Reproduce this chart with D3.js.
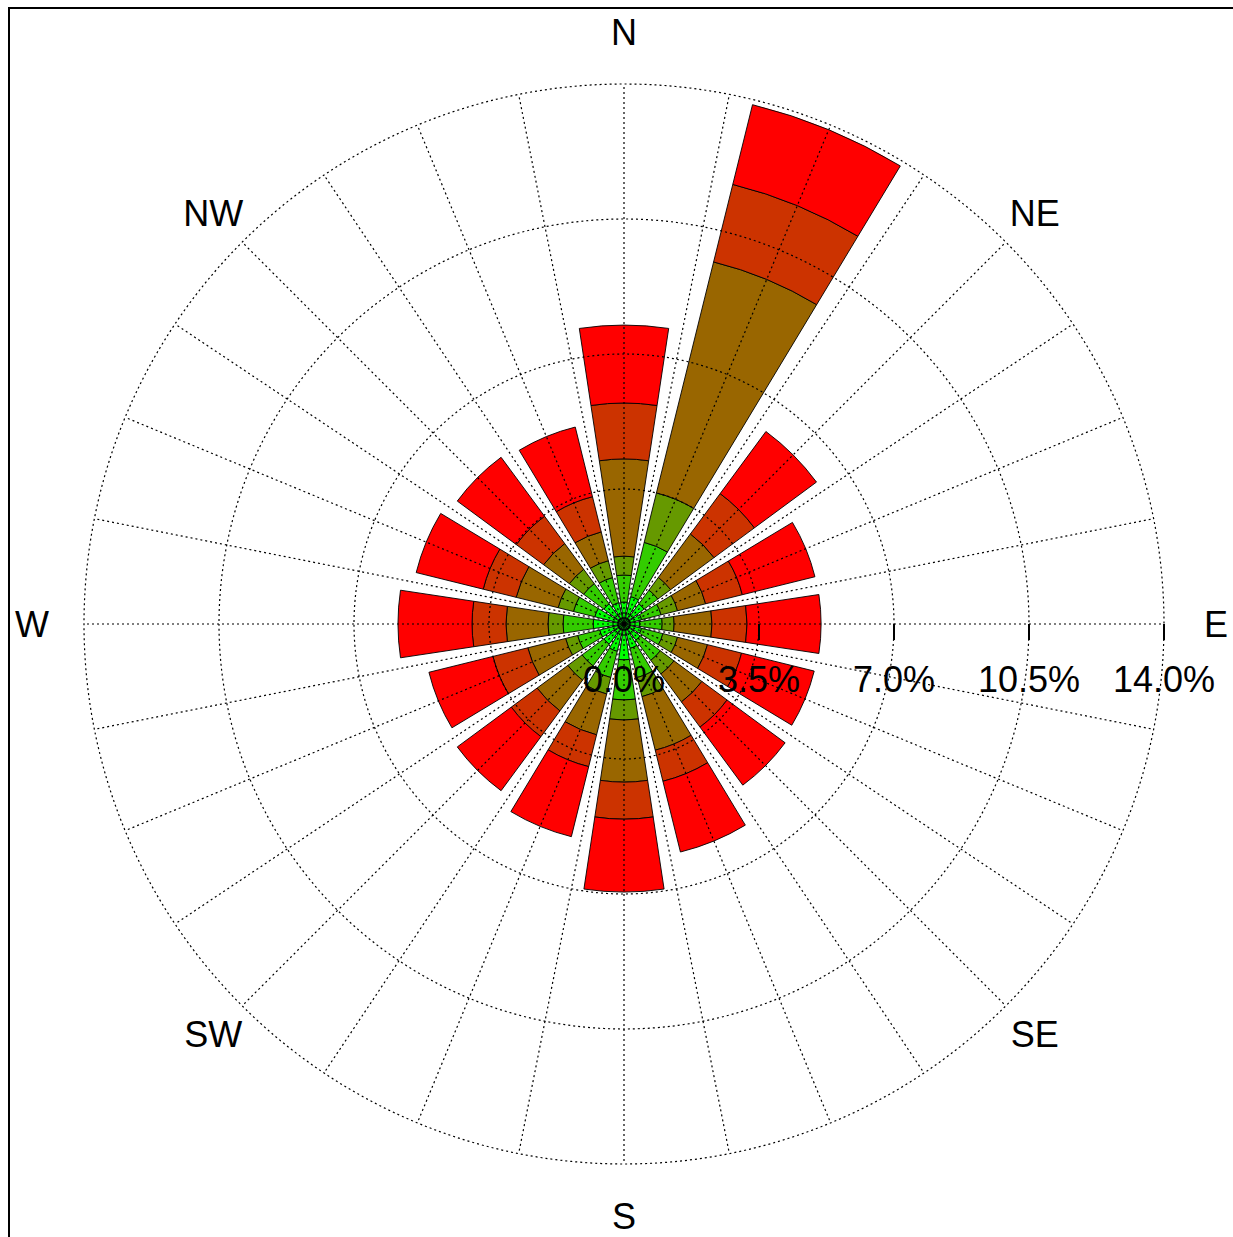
<!DOCTYPE html>
<html>
<head>
<meta charset="utf-8">
<script src="https://cdn.jsdelivr.net/npm/d3@7"></script>
<style>
  html, body { margin: 0; padding: 0; background: #fff; }
  svg { display: block; }
  text { font-family: "Liberation Sans", Arial, Helvetica, sans-serif; }
</style>
</head>
<body>
<svg id="chart" width="1233" height="1237"></svg>
<script>
// ---- data ----
const directions = ["N","NNE","NE","ENE","E","ESE","SE","SSE","S","SSW","SW","WSW","W","WNW","NW","NNW"];
const speedBins = ["s1","s2","s3","s4","s5","s6"];
const binColors = ["#00ff00","#33cc00","#669900","#996600","#cc3300","#ff0000"];
// frequency (%) of each speed bin for each direction
const s1 = [0.57,0.73,0.65,0.47,0.41,0.47,0.52,0.65,0.93,0.73,0.65,0.65,0.80,0.78,0.65,0.57];
const s2 = [0.70,1.45,0.44,0.52,0.58,0.57,0.65,0.78,1.04,0.70,0.70,0.59,0.78,0.57,0.65,0.67];
const s3 = [0.49,1.32,0.41,0.44,0.31,0.39,0.44,0.51,0.52,0.44,0.46,0.32,0.39,0.41,0.46,0.45];
const s4 = [2.52,6.17,1.40,0.75,0.98,0.80,0.90,1.43,1.61,1.09,0.99,1.01,1.09,1.12,0.83,0.77];
const s5 = [1.45,2.07,1.30,0.98,0.91,0.91,0.81,0.83,0.96,0.85,0.83,0.93,0.88,0.88,0.88,0.94];
const s6 = [2.02,2.13,2.00,1.94,1.92,1.94,1.87,1.89,1.89,1.87,1.74,1.71,1.92,1.79,1.90,1.86];
const ringTicks = [3.5, 7.0, 10.5, 14.0];
const tickLabels = ["0.0%","3.5%","7.0%","10.5%","14.0%"];
const compassLabels = ["N","NE","E","SE","S","SW","W","NW"];

// ---- layout ----
const W = 1233, H = 1237;
const cx = 624, cy = 624;
const R = 540;
const svg = d3.select("#chart");

// frame (axes box edges)
svg.append("path")
  .attr("d", `M9,${H} L9,8 L${W},8`)
  .attr("fill", "none").attr("stroke", "#000").attr("stroke-width", 2);

const g = svg.append("g").attr("transform", `translate(${cx},${cy})`);

const r = d3.scaleLinear().domain([0, 14]).range([0, R]);
const angle = d3.scaleLinear().domain([0, directions.length]).range([0, 2 * Math.PI]);
const halfWidth = 8.6 * Math.PI / 180;

const rows = directions.map((d, i) => {
  const o = { dir: d, i };
  [s1, s2, s3, s4, s5, s6].forEach((arr, k) => o[speedBins[k]] = arr[i]);
  return o;
});
const stacked = d3.stack().keys(speedBins)(rows);

const arc = d3.arc();
stacked.forEach((layer, k) => {
  g.append("g").selectAll("path")
    .data(layer)
    .join("path")
    .attr("d", d => arc({
      innerRadius: r(d[0]),
      outerRadius: r(d[1]),
      startAngle: angle(d.data.i) - halfWidth,
      endAngle: angle(d.data.i) + halfWidth
    }))
    .attr("fill", binColors[k])
    .attr("stroke", "#000")
    .attr("stroke-width", 0.9)
    .attr("stroke-linejoin", "miter");
});

// ---- grid (on top) ----
const grid = g.append("g")
  .attr("fill", "none").attr("stroke", "#000")
  .attr("stroke-width", 1.2).attr("stroke-dasharray", "2,3");
grid.selectAll("circle")
  .data(ringTicks)
  .join("circle")
  .attr("r", d => r(d));
const spokes = d3.range(32).map(k => k * 2 * Math.PI / 32);
grid.selectAll("line")
  .data(spokes)
  .join("line")
  .attr("x1", 0).attr("y1", 0)
  .attr("x2", a => R * Math.sin(a))
  .attr("y2", a => -R * Math.cos(a));

// ticks on East axis
g.append("g").selectAll("line")
  .data(ringTicks)
  .join("line")
  .attr("x1", d => r(d)).attr("x2", d => r(d))
  .attr("y1", 0).attr("y2", 16)
  .attr("stroke", "#000").attr("stroke-width", 2);

// tick labels
const tickVals = [0].concat(ringTicks);
g.append("g").selectAll("text")
  .data(tickVals)
  .join("text")
  .attr("x", d => r(d))
  .attr("y", 68)
  .attr("text-anchor", "middle")
  .attr("font-size", 36)
  .attr("fill", "#000")
  .text((d, i) => tickLabels[i]);

// compass labels
g.append("g").selectAll("text")
  .data(compassLabels)
  .join("text")
  .attr("x", (d, i) => (i % 2 ? 581 : 592) * Math.sin(i * Math.PI / 4))
  .attr("y", (d, i) => -(i % 2 ? 581 : 592) * Math.cos(i * Math.PI / 4))
  .attr("text-anchor", "middle")
  .attr("dominant-baseline", "central")
  .attr("font-size", 36)
  .attr("fill", "#000")
  .text(d => d);
</script>
</body>
</html>
